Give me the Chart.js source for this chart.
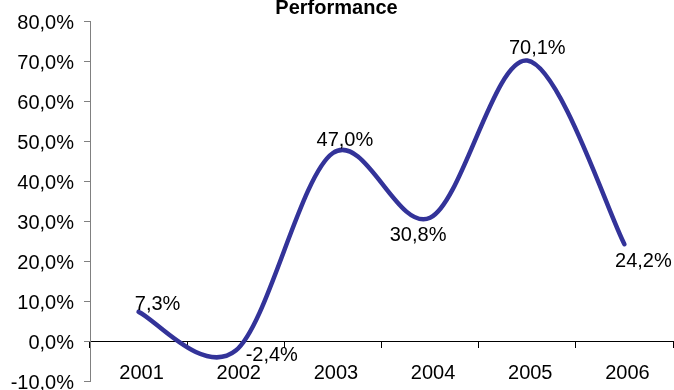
<!DOCTYPE html>
<html>
<head>
<meta charset="utf-8">
<title>Performance</title>
<script src="https://cdn.jsdelivr.net/npm/chart.js@4/dist/chart.umd.min.js"></script>
<style>
    html, body {
        margin: 0;
        padding: 0;
        background: #ffffff;
    }
    #wrap {
        width: 674px;
        height: 390px;
        position: relative;
    }
</style>
</head>
<body>
<div id="wrap">
    <canvas id="performanceChart"></canvas>
</div>
<script>

/*
============================================================
Data
============================================================
*/

const years = ["2001", "2002", "2003", "2004", "2005", "2006"];

const performance = [7.3, -2.4, 47.0, 30.8, 70.1, 24.2];

const axisMin = -10;

const axisMax = 80;

const axisStep = 10;

/*
============================================================
Helpers
============================================================
*/

const FONT = "Arial, 'Liberation Sans', sans-serif";

function percent(value) {

    return value.toFixed(1).replace(".", ",") + "%";

}

/*
============================================================
Excel-like smoothing (uniform Catmull-Rom control points)
============================================================
*/

const excelSmoothing = {

    id: "excelSmoothing",

    beforeDatasetDraw(chart, args) {

        const meta = args.meta;

        const line = meta.dataset;

        const points = meta.data;

        if (!line || points.length < 2) {

            return;

        }

        // let Chart.js do its own pass first, then replace the handles
        line.updateControlPoints(chart.chartArea, "x");

        points.forEach((point, i) => {

            const prev = points[i - 1] || point;

            const next = points[i + 1] || point;

            const dx = (next.x - prev.x) / 6;

            const dy = (next.y - prev.y) / 6;

            point.cp1x = point.x - dx;

            point.cp1y = point.y - dy;

            point.cp2x = point.x + dx;

            point.cp2y = point.y + dy;

        });

        line._path = undefined;

    }

};

/*
============================================================
Point Labels (placed like the Excel labels)
============================================================
*/

const labelOffsets = [

    [19, -7],

    [36, 5],

    [12, -13],

    [-12, 18],

    [10, -12],

    [19, 17]

];

const pointLabels = {

    id: "pointLabels",

    afterDatasetsDraw(chart) {

        const meta = chart.getDatasetMeta(0);

        const ctx = chart.ctx;

        ctx.save();

        ctx.font = "20px " + FONT;

        ctx.fillStyle = "#000000";

        ctx.textAlign = "center";

        ctx.textBaseline = "middle";

        meta.data.forEach((point, i) => {

            const offset = labelOffsets[i] || [0, -14];

            ctx.fillText(
                percent(performance[i]),
                point.x + offset[0],
                point.y + offset[1]
            );

        });

        ctx.restore();

    }

};

/*
============================================================
Chart
============================================================
*/

new Chart(

    document.getElementById("performanceChart"),

    {

        type: "line",

        data: {

            labels: years,

            datasets: [

                {

                    label: "Performance",

                    data: performance,

                    borderColor: "#333399",

                    borderWidth: 4.5,

                    borderCapStyle: "round",

                    borderJoinStyle: "round",

                    tension: 0.4,

                    pointRadius: 0,

                    fill: false

                }

            ]

        },

        options: {

            responsive: true,

            maintainAspectRatio: false,

            animation: false,

            layout: {

                padding: { left: 0, right: 1, top: 0, bottom: 9 }

            },

            plugins: {

                legend: { display: false },

                tooltip: { enabled: false },

                title: {

                    display: true,

                    text: "Performance",

                    color: "#000000",

                    font: { family: FONT, size: 20, weight: "bold", lineHeight: 1 },

                    padding: { top: -1.5, bottom: 2.5 }

                }

            },

            scales: {

                x: {

                    position: { y: 0 },

                    offset: true,

                    grid: {

                        display: true,

                        offset: true,

                        drawOnChartArea: false,

                        drawTicks: true,

                        tickLength: 6,

                        color: "#000000"

                    },

                    border: { display: true, color: "#000000", width: 1 },

                    ticks: {

                        color: "#000000",

                        padding: 14,

                        labelOffset: 3,

                        maxRotation: 0,

                        font: { family: FONT, size: 20 }

                    },

                    afterFit(scale) {

                        scale.height = 0;

                        scale.paddingLeft = 0;

                        scale.paddingRight = 0;

                    }

                },

                y: {

                    position: "left",

                    min: axisMin,

                    max: axisMax,

                    grid: {

                        display: true,

                        drawOnChartArea: false,

                        drawTicks: true,

                        tickLength: 6,

                        color: "#808080"

                    },

                    border: { display: true, color: "#808080", width: 1 },

                    ticks: {

                        stepSize: axisStep,

                        color: "#000000",

                        padding: 10,

                        labelOffset: 2,

                        font: { family: FONT, size: 20 },

                        callback: value => percent(value)

                    },

                    afterFit(scale) {

                        scale.width = 90;

                        scale.paddingTop = 0;

                        scale.paddingBottom = 0;

                    }

                }

            }

        },

        plugins: [excelSmoothing, pointLabels]

    }

);

</script>
</body>
</html>
